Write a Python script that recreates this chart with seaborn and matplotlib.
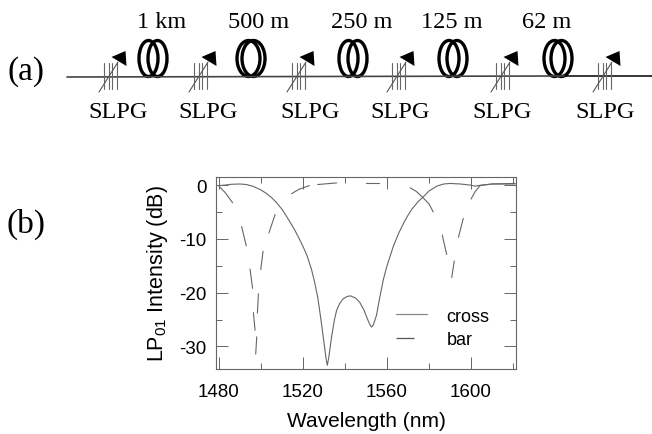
import numpy as np
import pandas as pd
import matplotlib
matplotlib.use("Agg")
import matplotlib.pyplot as plt
from matplotlib.lines import Line2D
from matplotlib.patches import Ellipse, Polygon
from matplotlib.ticker import MultipleLocator
import seaborn as sns

# panel (b) curves
cross_wl = [1480, 1483, 1486, 1490, 1493, 1496, 1499.5, 1502, 1505, 1507.5, 1510, 1512, 1514, 1516, 1518,
            1520, 1522, 1524, 1525.5, 1527, 1528, 1529, 1530, 1531, 1531.6, 1532.3, 1533, 1533.7,
            1535, 1536, 1537.5, 1539, 1541, 1542.7, 1545, 1547, 1549, 1551, 1552.2, 1552.7, 1553.5,
            1555, 1556.5, 1558.3, 1560, 1563, 1565.5, 1568, 1570, 1572, 1575, 1577, 1580, 1583.7,
            1587, 1590, 1595, 1599.5, 1602, 1605, 1610, 1621]
cross_db = [-0.1, 0, 0.15, 0.2, 0.1, -0.2, -0.8, -1.4, -2.3, -3.3, -4.5, -5.7, -7, -8.3, -9.8,
            -11.4, -13.2, -15.6, -18, -20.8, -23.5, -26.3, -29.3, -32.3, -33.5, -32, -30, -28,
            -25, -23.3, -22, -21.2, -20.7, -20.6, -21, -21.8, -23.2, -25.2, -26.2, -26.4, -26,
            -24.2, -21, -17.5, -15, -11.4, -9, -7, -5.6, -4.4, -3, -2.3, -1.1, -0.2,
            0.2, 0.3, 0.2, 0, -0.2, 0, 0.2, 0.2]

bar_wl = [1480, 1483, 1486.5,
          1490.8, 1493,
          1494.8, 1496,
          1496.4, 1497.2,
          1497.5, 1498,
          1498.3, 1498.8,
          1499.9, 1501,
          1503.8, 1506.7,
          1514.6, 1518, 1523,
          1527, 1536,
          1550, 1556,
          1571, 1574, 1577, 1580, 1582,
          1586.3, 1588.4,
          1590.8, 1592,
          1594, 1596.3,
          1600, 1602, 1604.3, 1610, 1621]
bar_db = [-0.2, -1.4, -3.3,
          -7.7, -11.3,
          -15.6, -19.2,
          -23.7, -27,
          -31.4, -28.2,
          -23.8, -20.2,
          -15.7, -12.3,
          -8.9, -5.5,
          -1.6, -0.8, -0.1,
          0.1, 0.4,
          0.4, 0.4,
          -0.5, -1.2, -2.3, -3.5, -5,
          -9.3, -12.9,
          -17.2, -14.1,
          -9.7, -6.2,
          -2.6, -1.2, -0.1, 0.2, 0.3]
bar_dash = [0, 0, 0,
            1, 1,
            2, 2,
            3, 3,
            4, 4,
            5, 5,
            6, 6,
            7, 7,
            8, 8, 8,
            9, 9,
            10, 10,
            11, 11, 11, 11, 11,
            12, 12,
            13, 13,
            14, 14,
            15, 15, 15, 15, 15]

y_ticks = [0, -10, -20, -30]
x_ticks = [1480, 1520, 1560, 1600]

# panel (a) schematic
coil_labels = ["1 km", "500 m", "250 m", "125 m", "62 m"]
label_x = [162, 259, 362, 452, 547]
coil_x = [153, 251, 353, 453, 558]
coil_gap = [4.5, 2.5, 4.5, 4, 3.5]
grating_x = [110, 200, 298, 398, 502, 604]
slpg_x = [118, 208, 310, 400, 502, 605]

W, H = 652, 435

sns.set_theme(style="white")
plt.rcParams["font.family"] = ["Liberation Sans", "DejaVu Sans"]
plt.rcParams["mathtext.fontset"] = "custom"
plt.rcParams["mathtext.rm"] = "Liberation Sans"
plt.rcParams["mathtext.default"] = "regular"
plt.rcParams["axes.unicode_minus"] = False

fig = plt.figure(figsize=(W / 100, H / 100), dpi=100, facecolor="white")

# overlay in pixel coords for the schematic
top = fig.add_axes([0, 0, 1, 1])
top.set_xlim(0, W)
top.set_ylim(H, 0)
top.axis("off")

top.plot([67, 565], [78, 77], color="#444444", lw=1.2)
top.plot([565, 652], [77, 77], color="black", lw=1.1)

for x, gap in zip(coil_x, coil_gap):
    for off in (-gap, gap):
        top.add_patch(Ellipse((x + off, 59.5), 28 - 2 * gap, 36, fill=False, ec="black", lw=2.4))

for x in grating_x:
    for off in (-6, -1.5, 2, 7):
        top.plot([x + off, x + off], [64, 90], color="#666666", lw=0.8)
    top.plot([x - 11, x + 8], [93, 63], color="#555555", lw=0.8)
    top.add_patch(Polygon([(x + 1.5, 58), (x + 15.5, 52), (x + 16.5, 67)], closed=True, color="black", lw=0))

for x, s in zip(label_x, coil_labels):
    top.text(x, 22, s, family="Liberation Serif", fontsize=17.5, ha="center", va="center", color="black")
for x in slpg_x:
    top.text(x, 112, "SLPG", family="Liberation Serif", fontsize=17.5, ha="center", va="center", color="black")
top.text(26, 72, "(a)", family="Liberation Serif", fontsize=24, ha="center", va="center", color="black")
top.text(26, 224, "(b)", family="Liberation Serif", fontsize=24, ha="center", va="center", color="black")

# spectrum panel
ax = fig.add_axes([216 / W, 1 - 369.5 / H, (516 - 216) / W, (369.5 - 178) / H])
ax.patch.set_alpha(0)
cross_df = pd.DataFrame({"wl": cross_wl, "db": cross_db})
bar_df = pd.DataFrame({"wl": bar_wl, "db": bar_db, "dash": bar_dash})
sns.lineplot(data=cross_df, x="wl", y="db", sort=False, estimator=None, color="#666666", lw=0.8, ax=ax)
sns.lineplot(data=bar_df, x="wl", y="db", units="dash", sort=False, estimator=None, color="#666666", lw=0.8, ax=ax)

ax.set_xlim(1478.6, 1621.4)
ax.set_ylim(-34.1, 1.5)
ax.set_xticks(x_ticks)
ax.set_yticks(y_ticks)
ax.xaxis.set_minor_locator(MultipleLocator(20))
ax.yaxis.set_minor_locator(MultipleLocator(5))
ax.tick_params(axis="x", which="major", direction="in", length=8.5, width=0.7, color="#666666",
               top=True, bottom=True, labelsize=13.5, labelcolor="black", pad=10.5)
ax.tick_params(axis="y", which="major", direction="in", length=8.5, width=0.7, color="#666666",
               left=True, right=True, labelsize=13.5, labelcolor="black", pad=7)
ax.tick_params(axis="both", which="minor", direction="in", length=4.5, width=0.7, color="#666666",
               top=True, right=True, bottom=True, left=True)
for sp in ax.spines.values():
    sp.set_visible(True)
    sp.set_color("#666666")
    sp.set_linewidth(0.8)

ax.set_xlabel("Wavelength (nm)", fontsize=15, color="black")
ax.set_ylabel(r"LP$_{01}$ Intensity (dB)", fontsize=15.5, color="black")
ax.xaxis.set_label_coords(0.5, -0.22)
ax.yaxis.set_label_coords(-0.153, 0.5)

handles = [Line2D([], [], color="#888888", lw=0.9),
           Line2D([], [], color="#555555", lw=0.9, dashes=(14.4, 40))]
ax.legend(handles, ["cross", "bar"], loc="lower left", bbox_to_anchor=(0.60, 0.107), frameon=False,
          fontsize=13, handlelength=1.7, handletextpad=1.1, labelspacing=0.35, borderpad=0, borderaxespad=0,
          labelcolor="black")

plt.savefig("out.png", dpi=100)
plt.close()
